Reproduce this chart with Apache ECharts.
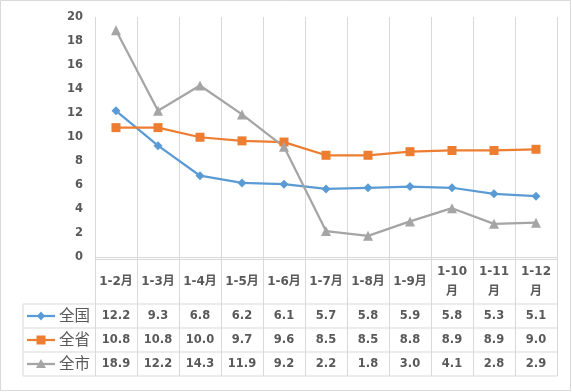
<!DOCTYPE html>
<html><head><meta charset="utf-8">
<script src="https://cdn.jsdelivr.net/npm/echarts@6/dist/echarts.min.js"></script>
<style>html,body{margin:0;padding:0;background:#fff}#c{width:572px;height:392px}</style>
</head><body><div id="c"></div>
<script>
var categories = ['1-2月','1-3月','1-4月','1-5月','1-6月','1-7月','1-8月','1-9月','1-10月','1-11月','1-12月'];
var seriesNames = ['全国','全省','全市'];
var national = [12.2, 9.3, 6.8, 6.2, 6.1, 5.7, 5.8, 5.9, 5.8, 5.3, 5.1];
var province = [10.8, 10.8, 10.0, 9.7, 9.6, 8.5, 8.5, 8.8, 8.9, 8.9, 9.0];
var city = [18.9, 12.2, 14.3, 11.9, 9.2, 2.2, 1.8, 3.0, 4.1, 2.8, 2.9];
var yTicks = {min: 0, max: 20, interval: 2};

var colors = ['#5B9BD5', '#ED7D31', '#A5A5A5'];
var symbols = ['diamond', 'rect', 'triangle'];
var symbolSizes = [9, 9, 10];
var allData = [national, province, city];

var W = 572, H = 392;
var gL = 95, gR = 557, gT = 17, gB = 257.5;
var catW = (gR - gL) / categories.length;
var tblTop = 259.5, hdrBot = 304, rowH = 24, tblLeft = 23;
var lineCol = '#D9D9D9', txtCol = '#595959';
var numFont = 'bold 11.5px "DejaVu Sans", "Noto Sans CJK SC"';
var hdrFont = 'bold 12px "DejaVu Sans", "Noto Sans CJK SC"';

var g = [];
// outer border
g.push({type:'rect', shape:{x:0.5, y:0.5, width:570, height:390}, style:{fill:'none', stroke:lineCol, lineWidth:1}, silent:true});
// table horizontal lines
g.push({type:'line', shape:{x1:gL, y1:tblTop, x2:gR, y2:tblTop}, style:{stroke:lineCol, lineWidth:1}});
for (var r = 0; r <= 3; r++) {
  var yy = hdrBot + r * rowH;
  g.push({type:'line', shape:{x1:tblLeft, y1:yy, x2:gR, y2:yy}, style:{stroke:lineCol, lineWidth:1}});
}
// vertical lines
g.push({type:'line', shape:{x1:tblLeft, y1:hdrBot, x2:tblLeft, y2:hdrBot + 3*rowH}, style:{stroke:lineCol, lineWidth:1}});
for (var i = 0; i <= categories.length; i++) {
  var xx = Math.round(gL + i * catW) + 0.5;
  g.push({type:'line', shape:{x1:xx, y1:gB, x2:xx, y2:hdrBot + 3*rowH}, style:{stroke:lineCol, lineWidth:1}});
}
// header
categories.forEach(function (c, i) {
  var cx = gL + (i + 0.5) * catW;
  var t = c.length > 4 ? c.replace('月', '\n月') : c;
  g.push({type:'text', style:{text:t, x:cx, y:(tblTop + hdrBot) / 2 + 0.5, align:'center', verticalAlign:'middle', fill:txtCol, font:hdrFont, lineHeight:20}});
});
// rows
allData.forEach(function (arr, r) {
  var cy = hdrBot + (r + 0.5) * rowH;
  arr.forEach(function (v, i) {
    var cx = gL + (i + 0.5) * catW;
    g.push({type:'text', style:{text:v.toFixed(1), x:cx, y:cy, align:'center', verticalAlign:'middle', fill:txtCol, font:numFont}});
  });
  // legend key
  g.push({type:'line', shape:{x1:27, y1:cy, x2:55, y2:cy}, style:{stroke:colors[r], lineWidth:2.25}});
  var mx = 41;
  if (r === 0) g.push({type:'polygon', shape:{points:[[mx, cy-4.5],[mx+4, cy],[mx, cy+4.5],[mx-4, cy]]}, style:{fill:colors[r]}});
  if (r === 1) g.push({type:'rect', shape:{x:mx-4.5, y:cy-4.5, width:9, height:9}, style:{fill:colors[r]}});
  if (r === 2) g.push({type:'polygon', shape:{points:[[mx, cy-5],[mx+5, cy+4],[mx-5, cy+4]]}, style:{fill:colors[r]}});
  g.push({type:'text', style:{text:seriesNames[r], x:59, y:cy - 0.5, align:'left', verticalAlign:'middle', fill:txtCol, font:'15.5px "Noto Sans CJK SC"'}});
});

var chart = echarts.init(document.getElementById('c'), null, {renderer:'canvas'});
chart.setOption({
  animation: false,
  backgroundColor: '#fff',
  grid: {left: gL, right: W - gR, top: gT, bottom: H - gB, containLabel: false},
  xAxis: {
    type: 'category', data: categories, boundaryGap: true,
    axisLine: {show: true, lineStyle: {color: lineCol, width: 1}},
    axisTick: {show: false}, axisLabel: {show: false},
    splitLine: {show: true, interval: 0, lineStyle: {color: lineCol, width: 1}}
  },
  yAxis: {
    type: 'value', min: yTicks.min, max: yTicks.max, interval: yTicks.interval,
    axisLine: {show: false}, axisTick: {show: false}, splitLine: {show: false},
    axisLabel: {color: txtCol, fontWeight: 'bold', fontSize: 11.5, fontFamily: '"DejaVu Sans"', margin: 12, padding: [3, 0, 0, 0]}
  },
  series: allData.map(function (arr, i) {
    return {
      name: seriesNames[i], type: 'line', data: arr,
      symbol: symbols[i], symbolSize: symbolSizes[i],
      lineStyle: {color: colors[i], width: 2.25},
      itemStyle: {color: colors[i]},
      showAllSymbol: true
    };
  }),
  graphic: g
});
</script></body></html>
